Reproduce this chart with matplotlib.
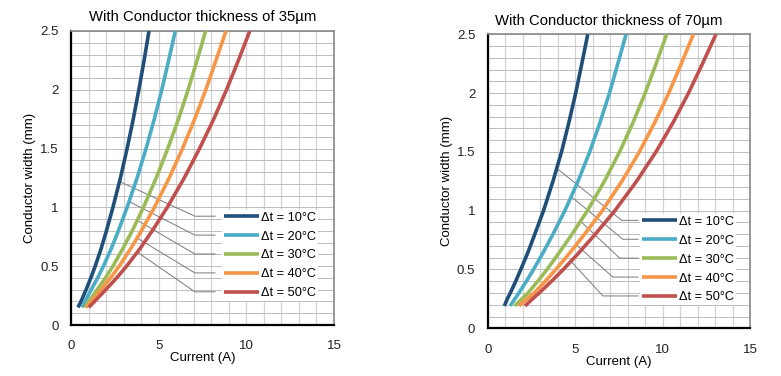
import numpy as np
import matplotlib
matplotlib.use('Agg')
import matplotlib.pyplot as plt
from matplotlib.ticker import MultipleLocator, FormatStrFormatter

plt.rcParams['font.family'] = ['Liberation Sans', 'DejaVu Sans']

# --- Data (conductor width in mm vs current in A) ---
LABELS = ['Δt = 10°C', 'Δt = 20°C', 'Δt = 30°C', 'Δt = 40°C', 'Δt = 50°C']
COLORS = ['#1F4E79', '#4BACC6', '#9BBB59', '#F79646', '#C0504D']

# 35 um copper
WIDTH_35 = [0.15, 0.2, 0.3, 0.4, 0.5, 0.65, 0.8, 1.0, 1.25, 1.5, 1.75, 2.0, 2.25, 2.5]
I35_DT10 = [0.40, 0.57, 0.86, 1.13, 1.38, 1.72, 2.02, 2.39, 2.82, 3.20, 3.55, 3.87, 4.17, 4.45]
I35_DT20 = [0.62, 0.80, 1.15, 1.52, 1.85, 2.30, 2.70, 3.20, 3.77, 4.28, 4.75, 5.18, 5.57, 5.95]
I35_DT30 = [0.78, 1.02, 1.49, 1.96, 2.39, 2.96, 3.49, 4.13, 4.86, 5.52, 6.13, 6.68, 7.19, 7.68]
I35_DT40 = [0.88, 1.16, 1.71, 2.25, 2.75, 3.41, 4.01, 4.76, 5.60, 6.36, 7.05, 7.69, 8.27, 8.84]
I35_DT50 = [1.02, 1.34, 1.98, 2.60, 3.17, 3.94, 4.63, 5.49, 6.46, 7.33, 8.14, 8.87, 9.55, 10.20]
LEADER_W_35 = [1.22, 1.05, 0.89, 0.74, 0.62]

# 70 um copper
WIDTH_70 = [0.19, 0.25, 0.3, 0.4, 0.5, 0.65, 0.8, 1.0, 1.25, 1.5, 1.75, 2.0, 2.25, 2.5]
I70_DT10 = [0.95, 1.12, 1.29, 1.60, 1.89, 2.31, 2.69, 3.19, 3.73, 4.22, 4.64, 5.03, 5.38, 5.72]
I70_DT20 = [1.28, 1.55, 1.78, 2.21, 2.62, 3.19, 3.73, 4.41, 5.16, 5.83, 6.42, 6.96, 7.44, 7.91]
I70_DT30 = [1.55, 1.95, 2.30, 2.86, 3.39, 4.12, 4.82, 5.70, 6.67, 7.54, 8.31, 9.00, 9.63, 10.23]
I70_DT40 = [1.78, 2.24, 2.65, 3.29, 3.89, 4.74, 5.54, 6.55, 7.67, 8.67, 9.55, 10.35, 11.07, 11.76]
I70_DT50 = [2.13, 2.56, 2.94, 3.65, 4.32, 5.26, 6.15, 7.27, 8.51, 9.62, 10.60, 11.48, 12.28, 13.05]
LEADER_W_70 = [1.36, 1.12, 0.91, 0.71, 0.57]


def draw_panel(fig, rect, title, title_x, widths, currents, leader_w, leg_anchor, knee_x, end_x):
    ax = fig.add_axes(rect)
    ax.set_xlim(0, 15)
    ax.set_ylim(0, 2.5)

    # grid: 1 A vertical, 0.1 mm horizontal
    ax.xaxis.set_major_locator(MultipleLocator(5))
    ax.xaxis.set_minor_locator(MultipleLocator(1))
    ax.yaxis.set_major_locator(MultipleLocator(0.5))
    ax.yaxis.set_minor_locator(MultipleLocator(0.1))
    ax.yaxis.set_major_formatter(FormatStrFormatter('%g'))
    ax.grid(True, axis='x', which='both', color='#d3d3d3', lw=0.9, zorder=0)
    ax.grid(True, axis='y', which='both', color='#bdbdbd', lw=0.7, zorder=0)
    ax.set_axisbelow(True)
    ax.tick_params(which='both', length=0, labelsize=9.5, colors='#222222')
    ax.tick_params(axis='y', pad=9)
    ax.tick_params(axis='x', pad=11)

    for side in ['left', 'bottom']:
        ax.spines[side].set_color('black')
        ax.spines[side].set_linewidth(1.6)
    for side in ['top', 'right']:
        ax.spines[side].set_color('#8a8a8a')
        ax.spines[side].set_linewidth(1.2)

    handles = []
    for cur, col, lab in zip(currents, COLORS, LABELS):
        ln, = ax.plot(cur, widths, color=col, lw=2.6, label=lab, zorder=3,
                      solid_capstyle='butt')
        handles.append(ln)

    ax.set_title(title, fontsize=10.7, pad=7, x=title_x)
    ax.set_xlabel('Current (A)', fontsize=9.5, labelpad=0)
    ax.set_ylabel('Conductor width (mm)', fontsize=9.5, labelpad=3)

    leg = ax.legend(handles=handles, loc='center left', bbox_to_anchor=leg_anchor,
                    frameon=True, facecolor='white', edgecolor='none', framealpha=1,
                    fancybox=False, borderpad=0.15, borderaxespad=0,
                    handlelength=2.75, handletextpad=0.15, labelspacing=0.54,
                    fontsize=9.2)
    leg.set_zorder(5)

    # leader lines from curve to legend entry
    fig.canvas.draw()
    renderer = fig.canvas.get_renderer()
    to_axes = ax.transAxes.inverted()
    for i, line in enumerate(leg.get_lines()):
        ext = line.get_window_extent(renderer)
        y_leg = to_axes.transform((0, (ext.y0 + ext.y1) / 2))[1]
        w0 = leader_w[i]
        i0 = np.interp(w0, widths, currents[i])
        p0 = to_axes.transform(ax.transData.transform((i0, w0)))
        kx = knee_x[i] if np.ndim(knee_x) else knee_x
        ax.plot([p0[0], kx, end_x], [p0[1], y_leg, y_leg], transform=ax.transAxes,
                color='#7a7a7a', lw=0.7, zorder=2)
    return ax


fig = plt.figure(figsize=(7.81, 3.76), dpi=100)

draw_panel(fig, [0.0909, 0.1356, 0.3367, 0.782], 'With Conductor thickness of 35µm', 0.5,
           WIDTH_35, [I35_DT10, I35_DT20, I35_DT30, I35_DT40, I35_DT50],
           LEADER_W_35, (0.575, 0.2365), 0.471, 0.548)

draw_panel(fig, [0.6245, 0.1269, 0.3359, 0.782], 'With Conductor thickness of 70µm', 0.4625,
           WIDTH_70, [I70_DT10, I70_DT20, I70_DT30, I70_DT40, I70_DT50],
           LEADER_W_70, (0.58, 0.2335), [0.511, 0.515, 0.503, 0.477, 0.439], 0.573)

fig.savefig('out.png', dpi=100, facecolor='white')
